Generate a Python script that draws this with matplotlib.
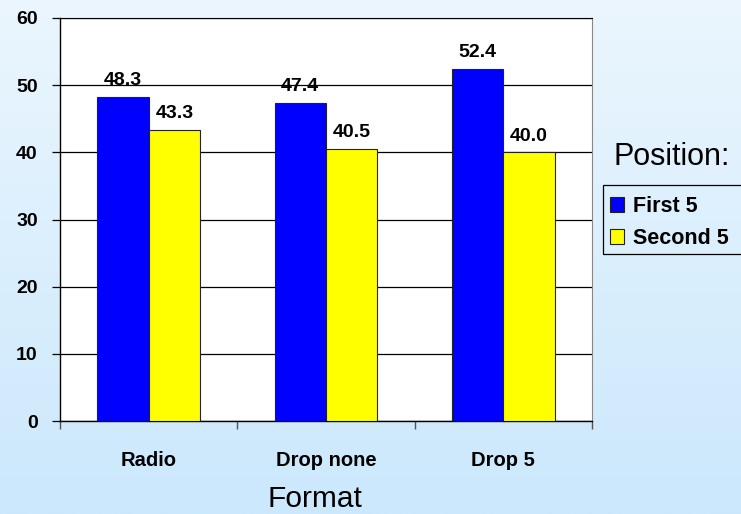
import matplotlib
matplotlib.use("Agg")
import matplotlib.pyplot as plt
from matplotlib.patches import Rectangle
import numpy as np

# --- data ---
formats = ["Radio", "Drop none", "Drop 5"]
first5 = [48.3, 47.4, 52.4]
second5 = [43.3, 40.5, 40.0]
series_names = ["First 5", "Second 5"]
y_ticks = [0, 10, 20, 30, 40, 50, 60]

BLUE = "#0000FF"
YELLOW = "#FFFF00"
FONT = "Liberation Sans"
W, H = 741, 514

plt.rcParams["font.family"] = [FONT, "DejaVu Sans"]

fig = plt.figure(figsize=(W / 100, H / 100), dpi=100)

# light blue vertical gradient behind everything
bg = fig.add_axes((0, 0, 1, 1), zorder=-10)
grad = np.linspace(0, 1, 256)[:, None]
top = np.array([235, 246, 254]) / 255
bot = np.array([203, 232, 252]) / 255
img = top[None, None, :] * (1 - grad[:, :, None]) + bot[None, None, :] * grad[:, :, None]
bg.imshow(img, aspect="auto", extent=(0, 1, 0, 1))
bg.axis("off")

ax = fig.add_axes((60 / W, 1 - 421 / H, 532 / W, 403 / H))
ax.set_facecolor("white")

x = np.arange(len(formats))
w = 0.29
b1 = ax.bar(x - w / 2, first5, w, color=BLUE, edgecolor="#222222", linewidth=0.8,
            label=series_names[0], zorder=3)
b2 = ax.bar(x + w / 2, second5, w, color=YELLOW, edgecolor="#222222", linewidth=0.8,
            label=series_names[1], zorder=3)

for bars, vals in [(b1, first5), (b2, second5)]:
    for r, v in zip(bars, vals):
        ax.annotate(f"{v:.1f}", (r.get_x() + r.get_width() / 2, v),
                    xytext=(0, 8.5), textcoords="offset points",
                    ha="center", va="baseline", fontsize=14, fontweight="bold")

ax.set_xlim(-0.5, len(formats) - 0.5)
ax.set_ylim(0, 60)
ax.set_yticks(y_ticks)
ax.set_yticklabels([str(t) for t in y_ticks], fontsize=14, fontweight="bold")
ax.yaxis.grid(True, color="black", linewidth=0.9, zorder=0)
ax.set_axisbelow(True)

# category ticks sit between groups, labels in the middle
ax.set_xticks(np.arange(len(formats) + 1) - 0.5)
ax.set_xticklabels([])
ax.set_xticks(x, minor=True)
ax.set_xticklabels(formats, minor=True, fontsize=14.5, fontweight="bold")
ax.tick_params(axis="x", which="major", length=5.5, width=1.0, color="#555555")
ax.tick_params(axis="x", which="minor", length=0, pad=21.5)
ax.tick_params(axis="y", length=6, width=0.9, pad=10)

for s in ["left", "bottom"]:
    ax.spines[s].set_color("black")
    ax.spines[s].set_linewidth(1.0)
ax.spines["top"].set_color("black")
ax.spines["right"].set_color("#888888")

fig.text(315 / W, 1 - 507 / H, "Format", fontsize=21.5, ha="center", va="baseline")
fig.text(614 / W, 1 - 157 / H, "Position:", fontsize=22, ha="left", va="center")

# legend box runs off the right edge
fig.patches.append(Rectangle((603 / W, 1 - 254 / H), 150 / W, 69 / H,
                             transform=fig.transFigure, fill=False,
                             edgecolor="black", linewidth=0.9, zorder=5))
leg = fig.legend(handles=[b1, b2], loc="upper left",
                 bbox_to_anchor=(610 / W, 1 - 196 / H),
                 frameon=False,
                 prop={"family": FONT, "weight": "bold", "size": 15.5},
                 handlelength=0.65, handleheight=0.7, handletextpad=0.4,
                 borderpad=0, labelspacing=0.5, borderaxespad=0)

fig.savefig("out.png", dpi=100)
